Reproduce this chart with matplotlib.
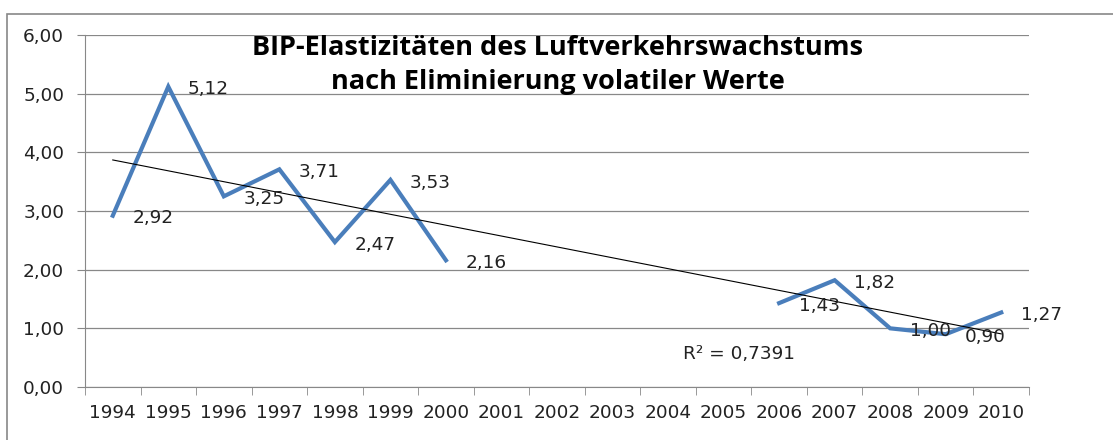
import numpy as np
import matplotlib.pyplot as plt
from matplotlib.patches import Rectangle

plt.rcParams['font.family'] = ['DejaVu Sans']

years = [str(y) for y in range(1994, 2011)]
values = [2.92, 5.12, 3.25, 3.71, 2.47, 3.53, 2.16,
          None, None, None, None, None,
          1.43, 1.82, 1.00, 0.90, 1.27]
title = "BIP-Elastizitäten des Luftverkehrswachstums\nnach Eliminierung volatiler Werte"

x = np.arange(1, len(years) + 1)
y = np.array([np.nan if v is None else v for v in values])
ok = ~np.isnan(y)

# linear trend over the known points
k, d = np.polyfit(x[ok], y[ok], 1)
fit = k * x[ok] + d
r2 = 1 - np.sum((y[ok] - fit) ** 2) / np.sum((y[ok] - y[ok].mean()) ** 2)

fig = plt.figure(figsize=(11.13, 4.40), dpi=100)
ax = fig.add_axes([85 / 1113, 53 / 440, 944 / 1113, 352 / 440])

ax.plot(x, y, color='#4A7EBB', lw=3.0, solid_joinstyle='miter', zorder=3)
ax.plot([x[0], x[-1]], [k * x[0] + d, k * x[-1] + d], color='black', lw=0.8, zorder=4)

for xi, v in zip(x, values):
    if v is None:
        continue
    ax.annotate(f"{v:.2f}".replace('.', ','), (xi, v), xytext=(14, -2),
                textcoords='offset points', ha='left', va='center',
                fontsize=13.3, color='#222222', zorder=5)

ax.text(11.27, 0.56, "R² = " + f"{r2:.4f}".replace('.', ','),
        fontsize=13.3, color='#222222', ha='left', va='center')

ax.set_xlim(0.5, len(years) + 0.5)
ax.set_ylim(0, 6)
ax.set_yticks(np.arange(0, 7, 1))
ax.set_yticklabels([f"{t:.2f}".replace('.', ',') for t in np.arange(0, 7, 1)])
ax.set_xticks(x)
ax.set_xticklabels(years)
ax.set_xticks(np.arange(0.5, len(years) + 1, 1), minor=True)
ax.tick_params(axis='x', which='major', length=0, pad=12, labelsize=13.3, labelcolor='#222222')
ax.tick_params(axis='x', which='minor', length=6, color='#888888')
ax.tick_params(axis='y', length=6, color='#888888', pad=9, labelsize=13.3, labelcolor='#222222')
ax.grid(axis='y', color='#888888', lw=0.9)
ax.set_axisbelow(True)
for s in ['top', 'right']:
    ax.spines[s].set_visible(False)
for s in ['left', 'bottom']:
    ax.spines[s].set_color('#888888')

fig.text(558 / 1113, 1 - 65 / 440, title, ha='center', va='center',
         fontsize=19.5, fontweight='bold', family='Open Sans', linespacing=1.4)

fig.patches.append(Rectangle((7 / 1113, -0.01), 1.1, 1 - 14 / 440 + 0.01,
                             transform=fig.transFigure, fill=False,
                             edgecolor='#888888', lw=1.2))

fig.savefig('out.png', dpi=100)
